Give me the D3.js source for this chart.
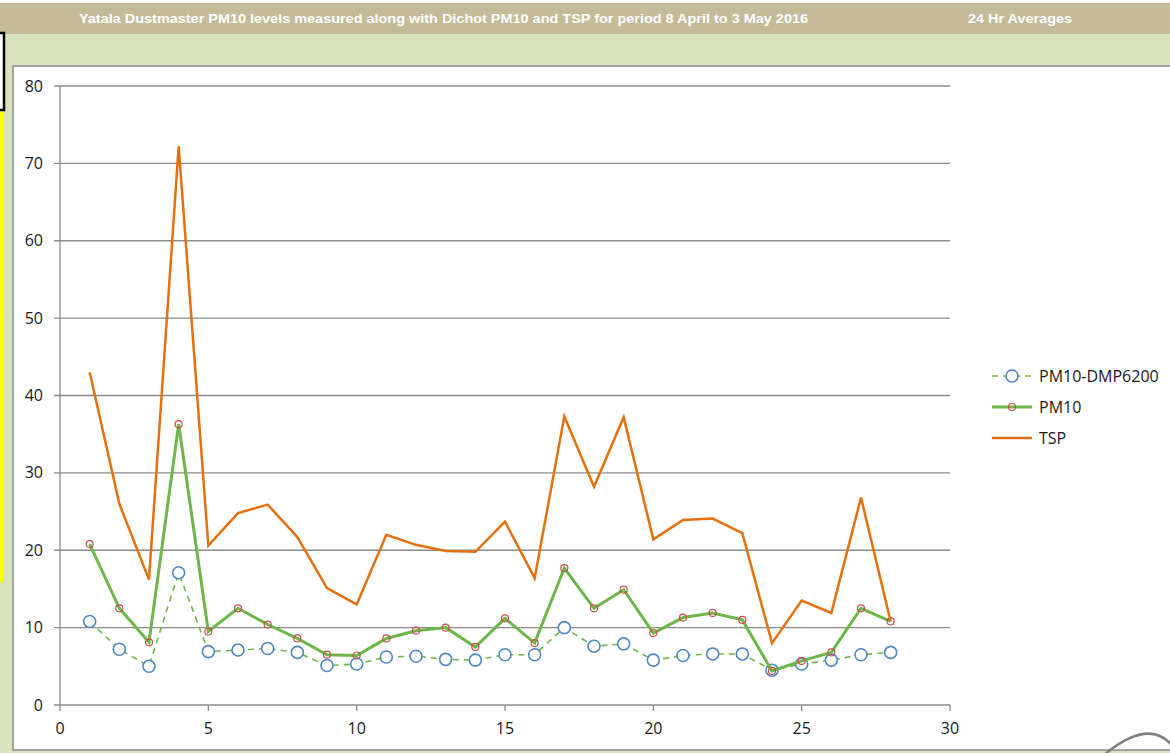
<!DOCTYPE html>
<html lang="en">
<head>
<meta charset="utf-8">
<style>
  body { margin: 0; background: white; }
  svg { display: block; font-family: 'Open Sans', sans-serif; }
  .grid line { stroke: #8c8c8c; stroke-width: 1.3px; }
  .axis-line { stroke: #8c8c8c; stroke-width: 1.3px; fill: none; }
  .tick-label { font-size: 16px; fill: #1a1a1a; }
  .legend text { font-size: 16px; fill: #1a1a1a; }
  .header text { font-family: 'Liberation Sans', Arial, sans-serif; font-size: 13px; font-weight: bold; fill: white; }
</style>
</head>
<body>
<svg width="1170" height="753"></svg>
<script src="https://cdn.jsdelivr.net/npm/d3@7"></script>
<script>
// 24 hr averages, day index along x
var days = [1, 2, 3, 4, 5, 6, 7, 8, 9, 10, 11, 12, 13, 14, 15, 16, 17, 18, 19, 20, 21, 22, 23, 24, 25, 26, 27, 28];
var dmp6200 = [10.8, 7.2, 5.0, 17.1, 6.9, 7.1, 7.3, 6.8, 5.1, 5.3, 6.2, 6.3, 5.9, 5.8, 6.5, 6.5, 10.0, 7.6, 7.9, 5.8, 6.4, 6.6, 6.6, 4.5, 5.3, 5.8, 6.5, 6.8];
var pm10 = [20.8, 12.5, 8.1, 36.3, 9.5, 12.5, 10.4, 8.6, 6.5, 6.4, 8.6, 9.6, 10.0, 7.5, 11.2, 8.0, 17.7, 12.5, 14.9, 9.3, 11.3, 11.9, 11.0, 4.4, 5.7, 6.8, 12.5, 10.8];
var tsp = [43.0, 26.0, 16.2, 72.2, 20.6, 24.8, 25.9, 21.7, 15.1, 13.0, 22.0, 20.7, 19.9, 19.8, 23.7, 16.4, 37.3, 28.2, 37.2, 21.4, 23.9, 24.1, 22.2, 8.0, 13.5, 11.9, 26.8, 10.8];
var xTicks = [0, 5, 10, 15, 20, 25, 30];
var yTicks = [0, 10, 20, 30, 40, 50, 60, 70, 80];
var seriesNames = ["PM10-DMP6200", "PM10", "TSP"];
var titleText = "Yatala Dustmaster PM10 levels measured along with Dichot PM10 and TSP for period 8 April to 3 May 2016";
var subTitle = "24 Hr Averages";

var green = "#6db64a", orange = "#e5700f", blue = "#4f86c6", red = "#c9504d";

var svg = d3.select("svg");

// page furniture: tan header, green panel, white chart area
svg.append("rect").attr("x", 0).attr("y", 3).attr("width", 1170).attr("height", 31).attr("fill", "#c5bb98");
svg.append("rect").attr("x", 0).attr("y", 34).attr("width", 1170).attr("height", 719).attr("fill", "#d8e3bd");
svg.append("rect").attr("x", 13).attr("y", 66).attr("width", 1170).attr("height", 684)
    .attr("fill", "white").attr("stroke", "#8a8a8a").attr("stroke-width", 1.5);
svg.append("rect").attr("x", 0).attr("y", 111).attr("width", 3).attr("height", 471).attr("fill", "#ffff00");
svg.append("rect").attr("x", -3).attr("y", 33).attr("width", 7).attr("height", 77)
    .attr("fill", "white").attr("stroke", "black").attr("stroke-width", 2.5);

var header = svg.append("g").attr("class", "header");
header.append("text").attr("x", 79).attr("y", 23).attr("textLength", 729).attr("lengthAdjust", "spacingAndGlyphs").text(titleText);
header.append("text").attr("x", 968).attr("y", 23).attr("textLength", 104).attr("lengthAdjust", "spacingAndGlyphs").text(subTitle);

var x = d3.scaleLinear().domain([0, 30]).range([60, 950]);
var y = d3.scaleLinear().domain([0, 80]).range([705, 86]);

// gridlines + y ticks
svg.append("g").attr("class", "grid")
  .selectAll("line").data(yTicks).enter().append("line")
    .attr("x1", 54).attr("x2", x(30))
    .attr("y1", d => y(d)).attr("y2", d => y(d));

svg.append("line").attr("class", "axis-line")
    .attr("x1", x(0)).attr("x2", x(0)).attr("y1", y(80)).attr("y2", y(0));

svg.append("g").attr("class", "grid")
  .selectAll("line").data(xTicks).enter().append("line")
    .attr("x1", d => x(d)).attr("x2", d => x(d))
    .attr("y1", y(0)).attr("y2", y(0) + 6);

svg.append("g").selectAll("text").data(yTicks).enter().append("text")
    .attr("class", "tick-label")
    .attr("x", 43).attr("y", d => y(d)).attr("dy", "0.35em")
    .attr("text-anchor", "end")
    .text(d => d);

svg.append("g").selectAll("text").data(xTicks).enter().append("text")
    .attr("class", "tick-label")
    .attr("x", d => x(d)).attr("y", 734)
    .attr("text-anchor", "middle")
    .text(d => d);

var line = d3.line().x((d, i) => x(days[i])).y(d => y(d));

// DMP6200 dashed with open blue circles
svg.append("path").datum(dmp6200).attr("d", line)
    .attr("fill", "none").attr("stroke", green).attr("stroke-width", 1.6).attr("stroke-dasharray", "6,5");
svg.append("g").selectAll("circle").data(dmp6200).enter().append("circle")
    .attr("cx", (d, i) => x(days[i])).attr("cy", d => y(d)).attr("r", 6)
    .attr("fill", "white").attr("stroke", blue).attr("stroke-width", 1.6);

// PM10
svg.append("path").datum(pm10).attr("d", line)
    .attr("fill", "none").attr("stroke", green).attr("stroke-width", 3);
svg.append("g").selectAll("circle").data(pm10).enter().append("circle")
    .attr("cx", (d, i) => x(days[i])).attr("cy", d => y(d)).attr("r", 3.5)
    .attr("fill", "none").attr("stroke", red).attr("stroke-width", 1.2);

// TSP
svg.append("path").datum(tsp).attr("d", line)
    .attr("fill", "none").attr("stroke", orange).attr("stroke-width", 2.5);

// legend
var legend = svg.append("g").attr("class", "legend");
var ly = [376, 407, 438];
legend.append("line").attr("x1", 992).attr("x2", 1032).attr("y1", ly[0]).attr("y2", ly[0])
    .attr("stroke", green).attr("stroke-width", 1.6).attr("stroke-dasharray", "6,5");
legend.append("circle").attr("cx", 1012).attr("cy", ly[0]).attr("r", 6)
    .attr("fill", "white").attr("stroke", blue).attr("stroke-width", 1.6);
legend.append("line").attr("x1", 992).attr("x2", 1032).attr("y1", ly[1]).attr("y2", ly[1])
    .attr("stroke", green).attr("stroke-width", 3);
legend.append("circle").attr("cx", 1012).attr("cy", ly[1]).attr("r", 3.5)
    .attr("fill", "none").attr("stroke", red).attr("stroke-width", 1.2);
legend.append("line").attr("x1", 992).attr("x2", 1032).attr("y1", ly[2]).attr("y2", ly[2])
    .attr("stroke", orange).attr("stroke-width", 2.5);
legend.selectAll("text").data(seriesNames).enter().append("text")
    .attr("x", 1039).attr("y", (d, i) => ly[i]).attr("dy", "0.35em")
    .text(d => d);

// stray grey arc at bottom right
svg.append("path").attr("d", "M1104,755 Q1148,718 1172,745")
    .attr("fill", "none").attr("stroke", "#808080").attr("stroke-width", 2.5);
</script>
</body>
</html>
